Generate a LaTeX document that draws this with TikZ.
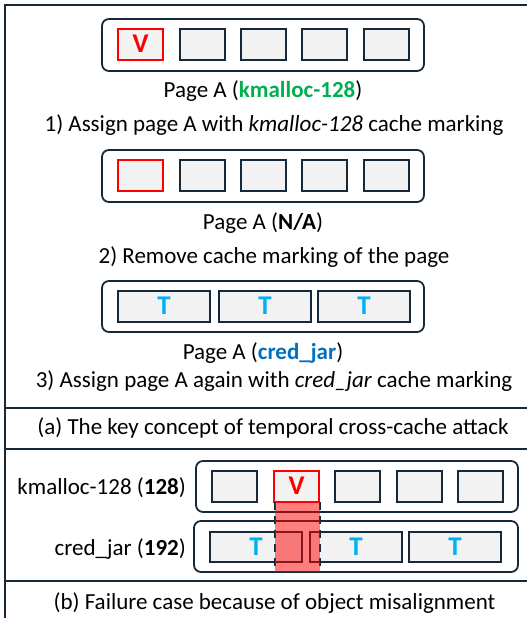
\documentclass[tikz,border=0pt]{standalone}
\usepackage{fontspec}
\setmainfont{Carlito}
\definecolor{edge}{HTML}{16293A}
\definecolor{slotgray}{HTML}{F2F2F2}
\definecolor{kgreen}{HTML}{00B050}
\definecolor{cblue}{HTML}{0070C0}
\definecolor{tblue}{HTML}{00B0F0}
\tikzset{
  pagebox/.style={draw=edge, line width=1.8pt, rounded corners=7pt, fill=white},
  slot/.style={draw=edge, line width=1.5pt, fill=slotgray},
  vslot/.style={slot, draw=red},
  lbl/.style={font=\fontsize{23}{27}\selectfont, anchor=base, inner sep=0pt},
  objmark/.style={font=\fontsize{27}{30}\selectfont\bfseries, inner sep=0pt},
  divider/.style={draw=edge, line width=1.8pt},
}
\begin{document}
\begin{tikzpicture}[x=1pt, y=-1pt]
\useasboundingbox (0,0) rectangle (527,618);
\clip (0,0) rectangle (527,618);

% outer frame and dividers
\draw[divider] (5,5) rectangle (540,630);
\draw[divider] (5,408) -- (540,408);
\draw[divider] (5,449) -- (540,449);
\draw[divider] (5,581) -- (540,581);

% step 1: page with kmalloc-128 slots
\draw[pagebox] (102,19) rectangle (424,71);
\draw[vslot] (118,29) rectangle (163,60);
\foreach \x in {180,241,302,364} \draw[slot] (\x,29) rectangle (\x+45,60);
\node[objmark, text=red] (v1) at (140.5,44) {V};
\node[lbl] (cap1) at (263,97) {Page A (\textcolor{kgreen}{\bfseries kmalloc-128})};
\node[lbl] (step1) at (274,131.5) {1) Assign page A with \textit{kmalloc-128} cache marking};

% step 2: page without cache marking
\draw[pagebox] (102,150) rectangle (424,202);
\draw[vslot] (118,160) rectangle (163,191);
\foreach \x in {180,241,302,364} \draw[slot] (\x,160) rectangle (\x+45,191);
\node[lbl] (cap2) at (263,229) {Page A (\textbf{N/A})};
\node[lbl] (step2) at (274,263) {2) Remove cache marking of the page};

% step 3: page with cred_jar slots
\draw[pagebox] (102,281) rectangle (424,332);
\foreach \x/\n in {118/a,219/b,318/c} {
  \draw[slot] (\x,291) rectangle (\x+92,322);
  \node[objmark, text=tblue] (t3\n) at (\x+46,306) {T};
}
\node[lbl] (cap3) at (263,359) {Page A (\textcolor{cblue}{\bfseries cred\_jar})};
\node[lbl] (step3) at (274,387) {3) Assign page A again with \textit{cred\_jar} cache marking};

\node[lbl] (capa) at (273,434) {(a) The key concept of temporal cross-cache attack};

% (b) misaligned object layouts
\draw[pagebox] (196,461) rectangle (518,512);
\foreach \x in {212,335,397,458} \draw[slot] (\x,471) rectangle (\x+45,502);
\draw[vslot] (274,471) rectangle (319,502);
\node[objmark, text=red] (v2) at (296.5,486) {V};

\draw[pagebox] (194,521) rectangle (518,572);
\foreach \x/\n in {210/a,310/b,409/c} {
  \draw[slot] (\x,532) rectangle (\x+92,562);
  \node[objmark, text=tblue] (tb\n) at (\x+46,546.5) {T};
}

% overlap of the victim object
\draw[edge, line width=1.5pt, dash pattern=on 8pt off 6pt] (275,502) -- (275,572);
\draw[edge, line width=1.5pt, dash pattern=on 8pt off 6pt] (320,502) -- (320,572);
\fill[red, opacity=0.5] (275,502) rectangle (320,572);

\node[lbl, anchor=base east] (kl) at (186,494) {kmalloc-128 (\textbf{128})};
\node[lbl, anchor=base east] (cl) at (186,555) {cred\_jar (\textbf{192})};

\node[lbl] (capb) at (274.5,609) {(b) Failure case because of object misalignment};
\end{tikzpicture}
\end{document}
